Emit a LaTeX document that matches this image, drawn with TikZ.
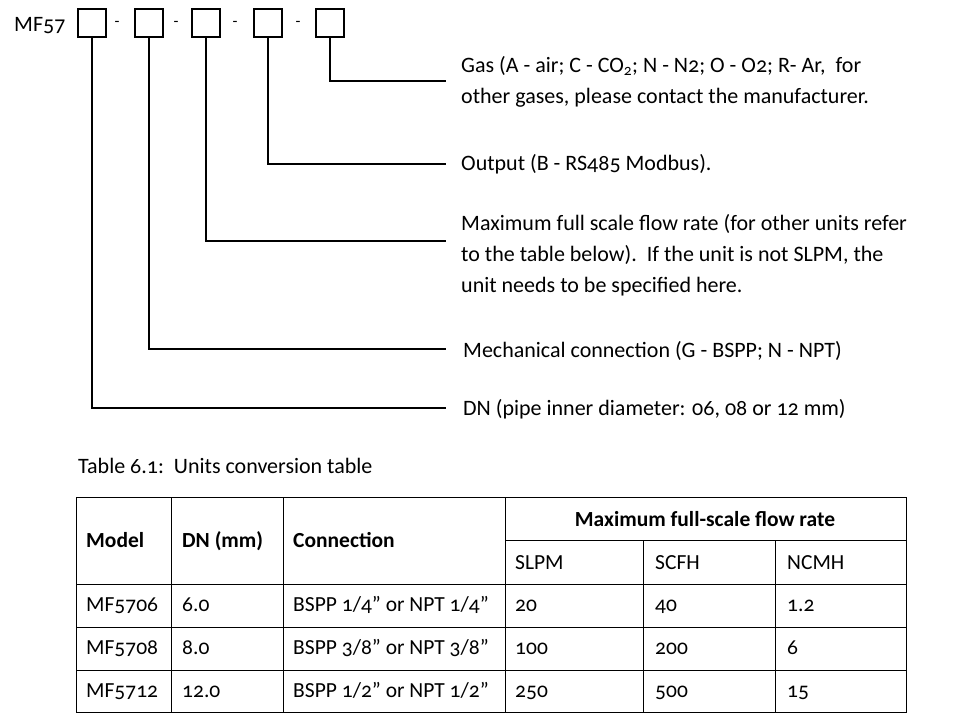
\documentclass[tikz,border=0pt]{standalone}
\usepackage{fontspec}
\setmainfont[Numbers=OldStyle]{Carlito}
\begin{document}
\begin{tikzpicture}[x=1pt,y=-1pt,
  cbox/.style={draw,line width=1.4pt,minimum size=28pt,inner sep=0pt},
  lead/.style={line width=1.4pt},
  txt/.style={anchor=base west,inner sep=0pt,font=\fontsize{22}{26}\selectfont},
  cell/.style={anchor=base west,inner sep=0pt,font=\fontsize{21.5}{26}\selectfont},
  hcell/.style={cell,font=\fontsize{21.5}{26}\selectfont\bfseries},
  grid/.style={line width=1pt}]
\useasboundingbox (0,0) rectangle (954,728);
\node[txt] (mf) at (14,31) {MF57};
\node[cbox] (b1) at (92,23) {};
\node[cbox] (b2) at (149,23) {};
\node[cbox] (b3) at (206,23) {};
\node[cbox] (b4) at (268,23) {};
\node[cbox] (b5) at (330,23) {};
\foreach \x/\n in {117/d1,176/d2,235/d3,298/d4}
  \node[inner sep=0pt,font=\fontsize{16}{16}\selectfont] (\n) at (\x,24) {-};
\coordinate (e5) at (446,81);
\coordinate (e4) at (446,164);
\coordinate (e3) at (446,241);
\coordinate (e2) at (446,349);
\coordinate (e1) at (446,408);
\draw[lead] (b5.south) |- (e5);
\draw[lead] (b4.south) |- (e4);
\draw[lead] (b3.south) |- (e3);
\draw[lead] (b2.south) |- (e2);
\draw[lead] (b1.south) |- (e1);
\node[txt] (t5a) at (461,72) {Gas (A - air; C - CO\textsubscript{2}; N - N2; O - O2; R- Ar,\ \ for};
\node[txt] (t5b) at (461,103) {other gases, please contact the manufacturer.};
\node[txt] (t4) at (461,170) {Output (B - RS485 Modbus).};
\node[txt] (t3a) at (461,230) {Maximum full scale flow rate (for other units refer};
\node[txt] (t3b) at (461,261) {to the table below).\ \ If the unit is not SLPM, the};
\node[txt] (t3c) at (461,292) {unit needs to be specified here.};
\node[txt] (t2) at (463,357) {Mechanical connection (G - BSPP; N - NPT)};
\node[txt] (t1) at (463,415) {DN (pipe inner diameter: 06, 08 or 12 mm)};
\node[txt] (cap) at (78,473) {Table 6.1:\ \ Units conversion table};
% table
\draw[grid] (76,497) rectangle (906,712);
\draw[grid] (505,540) -- (906,540);
\foreach \y in {584,627,670} \draw[grid] (76,\y) -- (906,\y);
\foreach \x in {171,283,505} \draw[grid] (\x,497) -- (\x,712);
\foreach \x in {643,775} \draw[grid] (\x,540) -- (\x,712);
\node[hcell] (h1) at (86,547) {Model};
\node[hcell] (h2) at (182,547) {DN (mm)};
\node[hcell] (h3) at (293,547) {Connection};
\node[hcell,anchor=base] (h4) at (705,526) {Maximum full-scale flow rate};
\node[cell] (h5) at (515,569) {SLPM};
\node[cell] (h6) at (655,569) {SCFH};
\node[cell] (h7) at (787,569) {NCMH};
\node[cell] (r11) at (86,611) {MF5706};
\node[cell] (r12) at (182,611) {6.0};
\node[cell] (r13) at (293,611) {BSPP 1/4” or NPT 1/4”};
\node[cell] (r14) at (515,611) {20};
\node[cell] (r15) at (655,611) {40};
\node[cell] (r16) at (787,611) {1.2};
\node[cell] (r21) at (86,654) {MF5708};
\node[cell] (r22) at (182,654) {8.0};
\node[cell] (r23) at (293,654) {BSPP 3/8” or NPT 3/8”};
\node[cell] (r24) at (515,654) {100};
\node[cell] (r25) at (655,654) {200};
\node[cell] (r26) at (787,654) {6};
\node[cell] (r31) at (86,697) {MF5712};
\node[cell] (r32) at (182,697) {12.0};
\node[cell] (r33) at (293,697) {BSPP 1/2” or NPT 1/2”};
\node[cell] (r34) at (515,697) {250};
\node[cell] (r35) at (655,697) {500};
\node[cell] (r36) at (787,697) {15};
\end{tikzpicture}
\end{document}
